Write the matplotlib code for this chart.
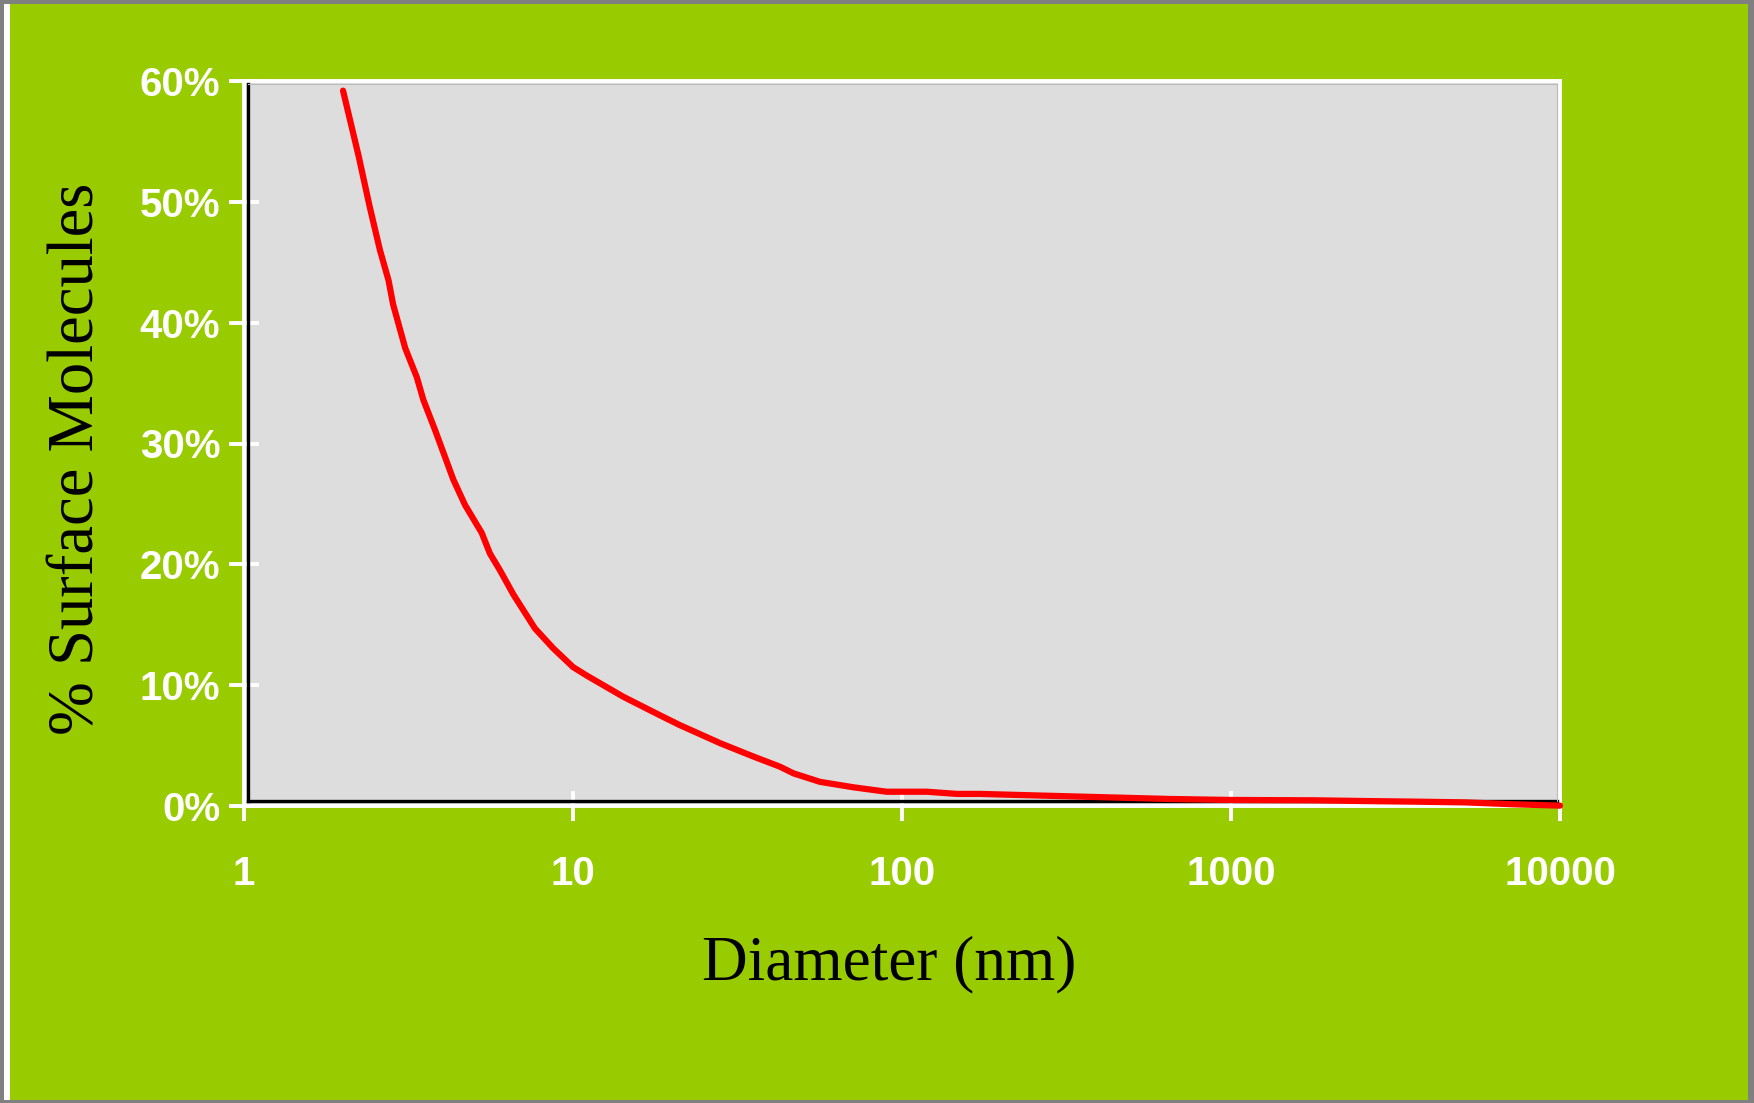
import matplotlib
matplotlib.use("Agg")
import matplotlib.pyplot as plt
from matplotlib.patches import Rectangle
from matplotlib.ticker import FuncFormatter

# diameter (nm) vs share of molecules sitting on the surface (%)
diameter = [2.0, 2.23, 2.41, 2.59, 2.75, 2.84, 3.09, 3.35, 3.51, 3.81, 4.33, 4.7,
            5.28, 5.59, 6.0, 6.59, 7.66, 8.71, 10.0, 11.0, 14.2, 18.4, 21.1, 28.0,
            35.3, 42.6, 46.8, 56.3, 71.1, 89.8, 119, 147, 173, 228, 324, 460, 653,
            993, 1800, 2555, 3625, 5145, 7300, 10000]
surface_pct = [59.2, 53.8, 49.6, 46.0, 43.5, 41.5, 37.9, 35.5, 33.6, 31.1, 27.0, 24.9,
               22.6, 20.9, 19.5, 17.5, 14.7, 13.05, 11.5, 10.8, 9.05, 7.5, 6.7, 5.2,
               4.1, 3.25, 2.7, 2.0, 1.55, 1.18, 1.18, 1.0, 1.0, 0.91, 0.8, 0.69, 0.58,
               0.5, 0.47, 0.41, 0.36, 0.3, 0.14, 0.03]
x_ticks = [1, 10, 100, 1000, 10000]
x_ticklabels = ["1", "10", "100", "1000", "10000"]
y_ticks = [0, 10, 20, 30, 40, 50, 60]

GREEN = "#99CC00"
PLOT_BG = "#DDDDDD"

W, H = 1754, 1103
fig = plt.figure(figsize=(W / 100, H / 100), dpi=100, facecolor="#808080")

# white strip on the left and the green slide background
fig.patches.append(Rectangle((4 / W, 3 / H), 6 / W, 1 - 7 / H, transform=fig.transFigure,
                             facecolor="white", edgecolor="none", zorder=-2))
fig.patches.append(Rectangle((10 / W, 3 / H), 1738 / W, 1 - 7 / H, transform=fig.transFigure,
                             facecolor=GREEN, edgecolor="none", zorder=-1))

ax = fig.add_axes([244 / W, 1 - 806 / H, 1316 / W, 725 / H])
ax.set_facecolor(PLOT_BG)

ax.plot(diameter, surface_pct, color="#FF0000", lw=4.5, solid_capstyle="round",
        zorder=5, clip_on=False)

ax.set_xscale("log")
ax.set_xlim(1, 10000)
ax.set_ylim(0, 60)
ax.set_xticks(x_ticks)
ax.set_xticklabels(x_ticklabels)
ax.xaxis.set_minor_locator(matplotlib.ticker.NullLocator())
ax.set_yticks(y_ticks)
ax.yaxis.set_major_formatter(FuncFormatter(lambda v, p: f"{v:.0f}%"))

for s in ax.spines.values():
    s.set_color("white")
    s.set_linewidth(2.8)

ax.tick_params(axis="both", which="major", direction="inout", length=22, width=2.8,
               color="white", labelcolor="white")
ax.tick_params(axis="y", pad=6)
ax.tick_params(axis="x", pad=24)
for lab in ax.get_xticklabels() + ax.get_yticklabels():
    lab.set_fontfamily("Liberation Sans")
    lab.set_fontweight("bold")
    lab.set_fontsize(29)

# plot-area border: black on left/bottom, thin grey on top/right
ax.plot([0.003, 0.003], [0.007, 0.996], color="black", lw=2.4, transform=ax.transAxes, zorder=3)
ax.plot([0.003, 0.998], [0.007, 0.007], color="black", lw=2.4, transform=ax.transAxes, zorder=3)
ax.plot([0.003, 0.998], [0.996, 0.996], color="#BBBBBB", lw=0.8, transform=ax.transAxes, zorder=3)
ax.plot([0.998, 0.998], [0.007, 0.996], color="#BBBBBB", lw=0.8, transform=ax.transAxes, zorder=3)

ax.set_xlabel("Diameter (nm)", family="Liberation Serif", fontsize=45.5, color="black", va="center")
ax.xaxis.set_label_coords(0.49, -0.218)
ax.set_ylabel("% Surface Molecules", family="Liberation Serif", fontsize=46.5, color="black", va="center")
ax.yaxis.set_label_coords(-0.126, 0.479)

fig.savefig("out.png", dpi=100, facecolor=fig.get_facecolor())
